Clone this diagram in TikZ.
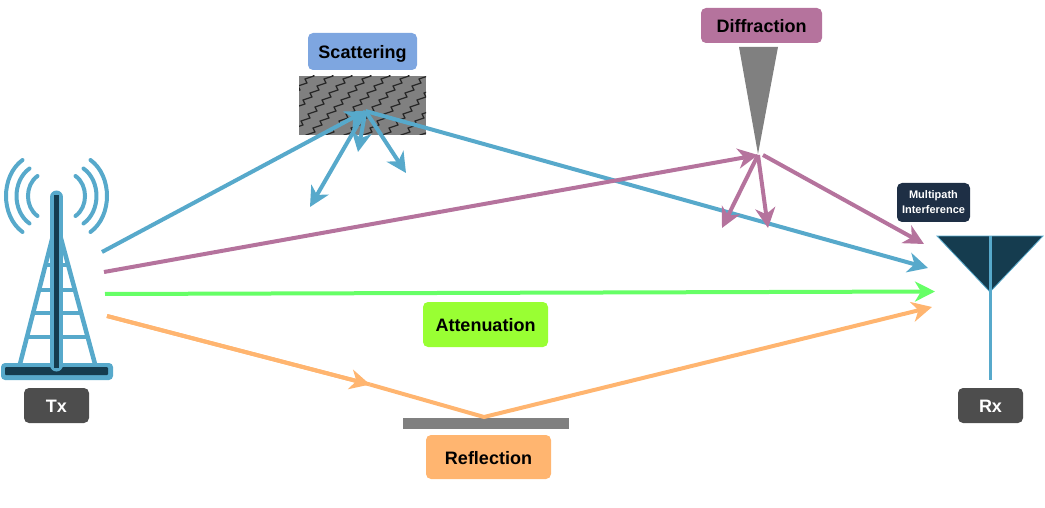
\documentclass[tikz,border=0pt]{standalone}
\usepackage{fontspec}
\setmainfont{Liberation Sans}
\usetikzlibrary{positioning, calc, arrows.meta}
\definecolor{bluepath}{HTML}{57A9CB}
\definecolor{darkmast}{HTML}{153C4F}
\definecolor{plumpath}{HTML}{B5739D}
\definecolor{orangepath}{HTML}{FFB570}
\definecolor{greenpath}{HTML}{66FF66}
\definecolor{scatterfill}{HTML}{7EA6E0}
\definecolor{atten}{HTML}{99FF33}
\definecolor{greybox}{HTML}{4D4D4D}
\definecolor{multibox}{HTML}{1E2F45}
\tikzset{
    every picture/.append style={x=1pt,y=-1pt},
    label box/.style={rounded corners=5pt, inner sep=0pt, font=\bfseries\fontsize{18}{20}\selectfont, align=center, text height=14.5pt, text depth=0pt},
    ray/.style={line width=4pt, -{Stealth[length=20pt,width=20pt,inset=6pt]}},
    bare ray/.style={line width=4pt}
}
\begin{document}
\begin{tikzpicture}
    \useasboundingbox (0,0) rectangle (1045,508);

    % Labels
    \node[label box, fill=scatterfill, minimum width=109pt, minimum height=37pt] (scattering) at (362.5,51.5) {Scattering};
    \node[label box, fill=plumpath, minimum width=121pt, minimum height=35pt] (diffraction) at (761.5,25.5) {Diffraction};
    \node[label box, fill=atten, minimum width=125pt, minimum height=45pt] (attenuation) at (485.5,324.5) {Attenuation};
    \node[label box, fill=orangepath, minimum width=125pt, minimum height=44pt] (reflection) at (488.5,457) {Reflection};
    \node[label box, fill=greybox, text=white, minimum width=65pt, minimum height=35pt] (tx) at (56.5,405.5) {Tx};
    \node[label box, fill=greybox, text=white, minimum width=65pt, minimum height=35pt] (rx) at (990.5,405.5) {Rx};
    \node[rounded corners=5pt, inner sep=0pt, align=center, fill=multibox, text=white, minimum width=73pt, minimum height=39pt, font=\bfseries\fontsize{11}{15}\selectfont] (multipath) at (933.5,202.5) {Multipath\\Interference};

    % Obstacles
    \begin{scope}
        \clip (299,76) rectangle (426,135);
        \fill[gray] (299,76) rectangle (426,135);
        \foreach \c in {-5,...,8} {
            \draw[black!85, line width=1.2pt, line join=round] ({299+\c*19},142)
                \foreach \k in {1,...,10} { -- ++(9,-3) -- ++(-2,-4) };
        }
    \end{scope}
    \fill[gray] (739,47) -- (778,47) -- (758,154) -- cycle;
    \fill[gray] (403,418) rectangle (569,429);

    % Tower
    \fill[bluepath, rounded corners=4pt] (1,363) rectangle (113,380);
    \fill[darkmast, rounded corners=1pt] (5,367) rectangle (108,375);
    \draw[bluepath, line width=4.5pt] (20,364) -- (56.5,222) -- (95,364);
    \foreach \y/\l/\r in {265/45/68, 290/39/74, 313/33/80, 337/27/86} {
        \draw[bluepath, line width=3.5pt] (\l,\y) -- (\r,\y);
    }
    \draw[bluepath, line width=13pt, line cap=round] (56.5,197) -- (56.5,365);
    \draw[darkmast, line width=4.5pt] (56.5,195) -- (56.5,368);
    \foreach \s in {-1,1} {
        \foreach \dx/\dy/\b in {34/36/56, 27/27.5/44.3, 19/20/31.7} {
            \draw[bluepath, line width=4pt, line cap=round] ({56.5+\s*\dx},{196-\dy}) .. controls ({56.5+\s*\b},{196-0.55*\dy}) and ({56.5+\s*\b},{196+0.55*\dy}) .. ({56.5+\s*\dx},{196+\dy});
        }
    }

    % Antenna
    \draw[bluepath, line width=0.8pt, fill=darkmast] (937,236) -- (1043,236) -- (990,292) -- cycle;
    \draw[bluepath, line width=3pt] (990,236) -- (990,380);

    % Ray ends
    \coordinate (txblue) at (102,252);
    \coordinate (txplum) at (104,272);
    \coordinate (txgreen) at (105,294);
    \coordinate (txorange) at (107,316);
    \coordinate (scatterhit) at (365.5,111);
    \coordinate (diffhit) at (758,155);
    \coordinate (diffout) at (763,155);
    \coordinate (reflecthit) at (484,417);
    \coordinate (orangemid) at (370,384.5);
    \coordinate (rxblue) at (928,268);
    \coordinate (rxplum) at (924,244);
    \coordinate (rxgreen) at (935,291.5);
    \coordinate (rxorange) at (932,307);

    % Scattering paths
    \draw[ray, bluepath] (txblue) -- (scatterhit);
    \draw[ray, bluepath] (scatterhit) -- (rxblue);
    \foreach \x/\y in {310/207, 358/152, 406/173} {
        \draw[ray, bluepath] (scatterhit) -- (\x,\y);
    }

    % Diffraction paths
    \draw[ray, plumpath] (txplum) -- (diffhit);
    \draw[ray, plumpath] (diffout) -- (rxplum);
    \foreach \x/\y in {722/228, 768/228} {
        \draw[ray, plumpath] (diffhit) -- (\x,\y);
    }

    % Direct path
    \draw[ray, greenpath] (txgreen) -- (rxgreen);

    % Reflection path
    \draw[bare ray, orangepath] (txorange) -- (orangemid);
    \draw[ray, orangepath] (txorange) -- (orangemid);
    \draw[ray, orangepath] (orangemid) -- (reflecthit) -- (rxorange);
\end{tikzpicture}
\end{document}
